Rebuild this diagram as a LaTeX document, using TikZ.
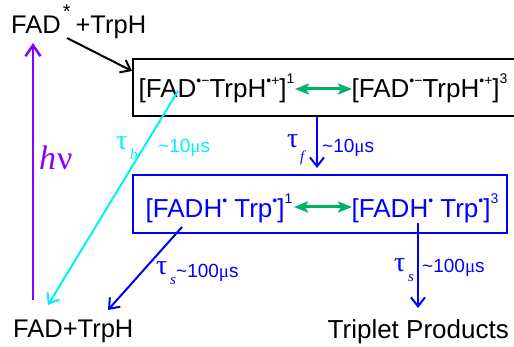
\documentclass[tikz,border=0pt]{standalone}
\usepackage{fontspec}
\setmainfont{Liberation Sans}
\newfontfamily\serif{Liberation Serif}
\usetikzlibrary{arrows.meta}
\definecolor{myviolet}{RGB}{136,0,255}
\definecolor{mygreen}{RGB}{0,178,102}
\definecolor{mycyan}{RGB}{0,240,250}
\definecolor{myblue}{RGB}{0,0,255}
\newcommand\rsup[2]{\raisebox{#1}{\fontsize{14}{14}\selectfont #2}}
\newcommand\rnum[1]{\raisebox{14.5pt}{\fontsize{14}{14}\selectfont #1}}
\newcommand\mus{{\serif μ}}
\tikzset{
  arr/.style={line width=2pt, -{Straight Barb[length=9pt,width=14pt]}},
  dbl/.style={mygreen, line width=3pt, {Stealth[length=14pt,width=11pt,inset=3pt]}-{Stealth[length=14pt,width=11pt,inset=3pt]}},
  main/.style={font=\fontsize{26}{26}\selectfont, inner sep=0, anchor=base west},
  lab/.style={font=\fontsize{19}{19}\selectfont, inner sep=0, anchor=base west},
  tau/.style={font=\serif\fontsize{28}{28}\selectfont, inner sep=0, anchor=base west},
  sub/.style={font=\serif\itshape\fontsize{15}{15}\selectfont, inner sep=0, anchor=base west},
  boxA/.style={draw, line width=2pt, inner sep=0},
}
\begin{document}
\begin{tikzpicture}[x=1pt,y=-1pt]
\useasboundingbox (0,0) rectangle (514,347);
% boxes
\node[boxA, black, minimum width=382.5pt, minimum height=57pt] (box1) at (324.25,87.5) {};
\node[boxA, myblue, minimum width=374pt, minimum height=58pt] (box2) at (320,204) {};
% texts
\node[main, font=\fontsize{25.5}{25.5}\selectfont] (top) at (11,34) {FAD\kern2pt\raisebox{15pt}{\fontsize{20}{20}\selectfont *}\kern5pt+TrpH};
\node[main] (s1) at (138.5,97.7) {[FAD\rsup{12pt}{•−}TrpH\rsup{12pt}{•+}]\rnum{1}};
\node[main] (s3) at (351.5,97.7) {[FAD\rsup{12pt}{•−}TrpH\rsup{12pt}{•+}]\rnum{3}};
\node[main, myblue] (t1) at (145.5,218) {[FADH\rsup{12pt}{•} Trp\rsup{12pt}{•}]\rnum{1}};
\node[main, myblue] (t3) at (351.5,218) {[FADH\rsup{12pt}{•} Trp\rsup{12pt}{•}]\rnum{3}};
\node[main, font=\fontsize{25.5}{25.5}\selectfont] (ground) at (13,337.5) {FAD+TrpH};
\node[main] (prod) at (327.5,338) {Triplet Products};
% coordinates
\coordinate (ka) at (67,38);   \coordinate (kb) at (132,71);
\coordinate (pa) at (33,300);  \coordinate (pb) at (33,43);
\coordinate (ca) at (178,91);  \coordinate (cb) at (48,305);
\coordinate (fa) at (317,117); \coordinate (fb) at (317,168);
\coordinate (la) at (182,227); \coordinate (lb) at (108,310);
\coordinate (ra) at (418,223); \coordinate (rb) at (418,308);
\coordinate (g1a) at (295,89); \coordinate (g1b) at (352,89);
\coordinate (g2a) at (294,207); \coordinate (g2b) at (352,207);
% connectors
\draw[arr, black] (ka) -- (kb);
\draw[arr, myviolet, line width=2.5pt, -{Straight Barb[length=11pt,width=15pt]}] (pa) -- (pb);
\draw[arr, mycyan] (ca) -- (cb);
\draw[arr, myblue] (fa) -- (fb);
\draw[arr, myblue] (la) -- (lb);
\draw[arr, myblue] (ra) -- (rb);
\draw[dbl] (g1a) -- (g1b);
\draw[dbl] (g2a) -- (g2b);
% labels
\node[font=\serif\fontsize{34}{34}\selectfont, inner sep=0, anchor=base west, myviolet] (hnu) at (39,170) {\textit{h}\kern1ptν};
\node[tau, mycyan] (taub) at (116,150) {τ};
\node[sub, mycyan] (subb) at (130,160) {b};
\node[lab, mycyan] (lb1) at (158,153) {\textasciitilde 10\mus s};
\node[tau, myblue] (tauf) at (287,148) {τ};
\node[sub, myblue] (subf) at (300,162) {f};
\node[lab, myblue] (lf1) at (322,153) {\textasciitilde 10\mus s};
\node[tau, myblue] (taus1) at (156,275) {τ};
\node[sub, myblue] (subs1) at (170,285) {s};
\node[lab, myblue] (ls1) at (176,278) {\textasciitilde 100\mus s};
\node[tau, myblue] (taus2) at (394,272) {τ};
\node[sub, myblue] (subs2) at (408,282) {s};
\node[lab, myblue] (ls2) at (422,273) {\textasciitilde 100\mus s};
\end{tikzpicture}
\end{document}
